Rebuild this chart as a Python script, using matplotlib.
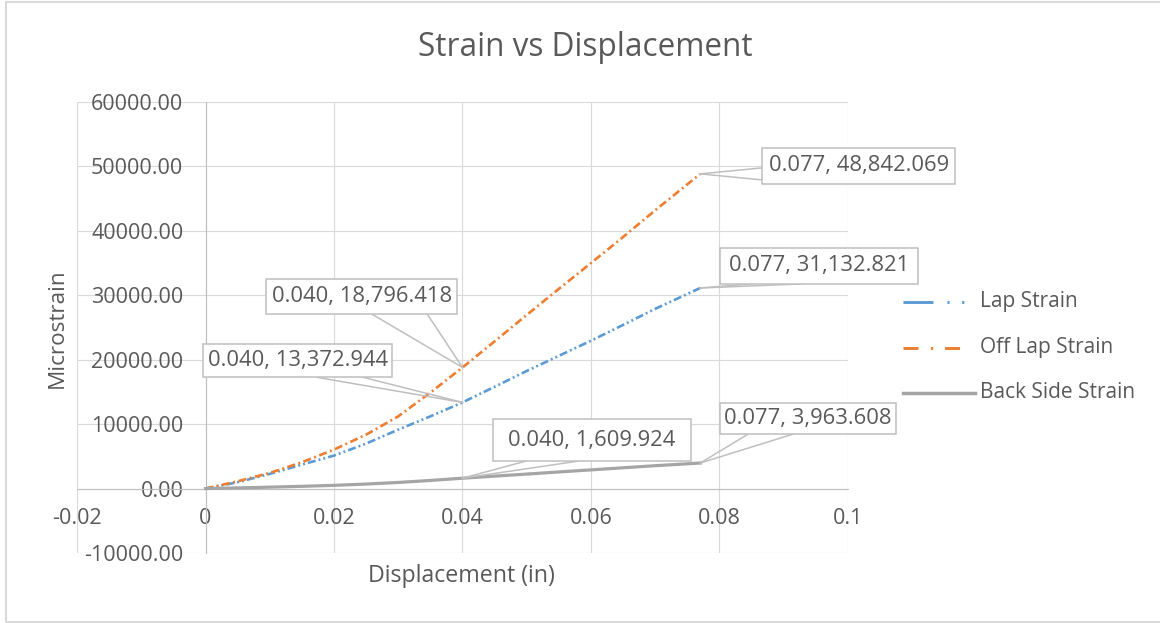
import matplotlib
matplotlib.use('Agg')
import matplotlib.pyplot as plt
import matplotlib.transforms as mtransforms
from matplotlib.lines import Line2D
from matplotlib.patches import Rectangle
from matplotlib.ticker import FuncFormatter, MultipleLocator

# strain gauge readings vs displacement
disp = [0, 0.005, 0.01, 0.015, 0.02, 0.025, 0.03, 0.035, 0.04,
        0.045, 0.05, 0.055, 0.06, 0.065, 0.07, 0.077]
lap = [0, 980, 2280, 3720, 5120, 6980, 9150, 11210, 13372.944,
       15800, 18250, 20600, 22950, 25400, 27900, 31132.821]
off_lap = [0, 1130, 2430, 4080, 6050, 8370, 11210, 14900, 18796.418,
           22850, 26950, 31000, 35000, 39050, 43200, 48842.069]
back = [0, 100, 220, 350, 500, 700, 950, 1260, 1609.924,
        1930, 2250, 2580, 2900, 3230, 3550, 3963.608]
names = ['Lap Strain', 'Off Lap Strain', 'Back Side Strain']

W, H = 1160, 623
TXT = '#595959'
plt.rcParams['font.family'] = ['Open Sans', 'DejaVu Sans']
plt.rcParams['axes.unicode_minus'] = False
plt.rcParams['lines.scale_dashes'] = False

fig = plt.figure(figsize=(W / 100, H / 100), dpi=100)
ax = fig.add_axes([77 / W, 1 - 553 / H, (848 - 77) / W, (553 - 102) / H])

# series styles (plot dashes, legend dashes, legend handle end in px)
styles = [
    dict(color='#5B9BD5', lw=1.9, dashes=(5.8, 2.2, 1.4, 2.2, 1.4, 2.2),
         leg=(21.6, 10, 1.6, 9, 1.6, 20), end=966),
    dict(color='#ED7D31', lw=1.9, dashes=(5.8, 2.5, 1.4, 2.5),
         leg=(10.8, 9, 1.6, 8.5, 10.8, 9), end=960),
    dict(color='#A5A5A5', lw=2.3, dashes=None, leg=None, end=975),
]
for ys, st in zip([lap, off_lap, back], styles):
    ln, = ax.plot(disp, ys, color=st['color'], lw=st['lw'], zorder=3)
    if st['dashes']:
        ln.set_dashes(st['dashes'])

ax.set_xlim(-0.02, 0.1)
ax.set_ylim(-10000, 60000)
ax.xaxis.set_major_locator(MultipleLocator(0.02))
ax.yaxis.set_major_locator(MultipleLocator(10000))
ax.xaxis.set_major_formatter(FuncFormatter(lambda v, p: '%g' % round(v, 4)))
ax.yaxis.set_major_formatter(FuncFormatter(lambda v, p: '%.2f' % v))
ax.grid(True, color='#d9d9d9', lw=0.8, zorder=0)
ax.set_axisbelow(True)

for s in ['top', 'right']:
    ax.spines[s].set_visible(False)
ax.spines['left'].set_position(('data', 0))
ax.spines['bottom'].set_position(('data', 0))
for s in ['left', 'bottom']:
    ax.spines[s].set_color('#bfbfbf')
    ax.spines[s].set_linewidth(0.8)
ax.tick_params(length=0, labelsize=15.5, labelcolor=TXT)
ax.tick_params(axis='y', pad=16)
ax.tick_params(axis='x', pad=14)

# data callouts: (x, y, box l/t/r/b offsets in px, wedge base points)
callouts = [
    (0.077, off_lap[-1], (62, -26, 255, 10), [(62, -6), (62, 6)]),
    (0.077, lap[-1], (20, -40, 218, -4), [(50, -4), (100, -4)]),
    (0.040, off_lap[8], (-196, -88, -5, -53), [(-90, -53), (-35, -53)]),
    (0.040, lap[8], (-259, -58, -70, -25), [(-145, -25), (-99, -25)]),
    (0.040, back[8], (31, -59, 228, -17), [(63, -17), (115, -17)]),
    (0.077, back[-1], (20, -60, 196, -29), [(48, -29), (93, -29)]),
]
for x, y, (l, t, r, b), base in callouts:
    tr = mtransforms.IdentityTransform() + \
        mtransforms.ScaledTranslation(x, y, ax.transData)
    for bx, by in base:
        ax.add_line(Line2D([0, bx], [0, -by], transform=tr, color='#bfbfbf',
                           lw=1.1, zorder=4, clip_on=False))
    ax.add_patch(Rectangle((l, -b), r - l, b - t, transform=tr, fc='white',
                           ec='#bfbfbf', lw=1.1, zorder=5, clip_on=False))
    ax.text((l + r) / 2, -(t + b) / 2, f'{x:.3f}, {y:,.3f}', transform=tr,
            ha='center', va='center', fontsize=15.8, color=TXT, zorder=6,
            clip_on=False)

# legend, drawn by hand
for i, (name, st) in enumerate(zip(names, styles)):
    yy = 1 - (302 + 45.5 * i) / H
    hl = Line2D([903 / W, st['end'] / W], [yy, yy], transform=fig.transFigure,
                color=st['color'], lw=st['lw'] + 0.2)
    if st['leg']:
        hl.set_dashes(st['leg'])
    fig.add_artist(hl)
    fig.text(980 / W, yy, name, ha='left', va='center', fontsize=15,
             color=TXT)

fig.text(585 / W, 1 - 47 / H, 'Strain vs Displacement', ha='center',
         va='center', fontsize=22.7, color=TXT)
fig.text(461 / W, 1 - 576 / H, 'Displacement (in)', ha='center',
         va='center', fontsize=16.7, color=TXT)
fig.text(57 / W, 1 - 328 / H, 'Microstrain', ha='center', va='center',
         rotation=90, fontsize=16.2, color=TXT)

# chart area border
fig.add_artist(Rectangle((6 / W, 1 / H), 1.2, 1 - 3 / H,
                         transform=fig.transFigure, fill=False,
                         ec='#d9d9d9', lw=1.5))

fig.savefig('out.png', dpi=100)
